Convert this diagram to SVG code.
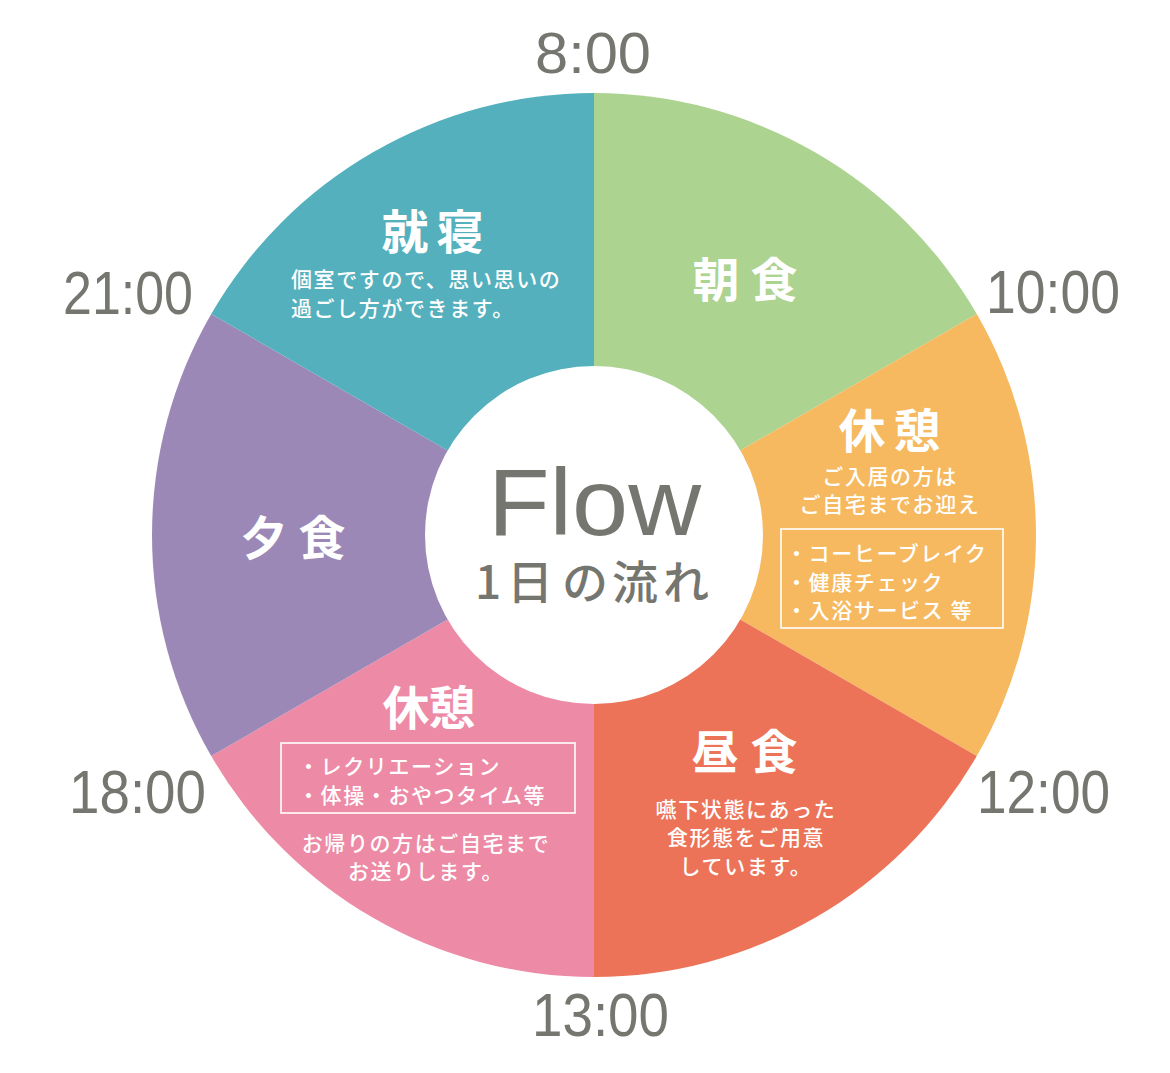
<svg xmlns="http://www.w3.org/2000/svg" width="1170" height="1073" viewBox="0 0 1170 1073">
<style>
.time{font-family:"Liberation Sans",Arial,sans-serif;font-size:62px;fill:#767670;}
.hd{font-family:"Noto Sans CJK JP",sans-serif;font-weight:700;font-size:47px;fill:#fff;text-anchor:middle;}
.bd{font-family:"Noto Sans CJK JP",sans-serif;font-weight:500;font-size:21px;fill:#fff;letter-spacing:1.6px;}
.mid{text-anchor:middle;}
.box{fill:none;stroke:#fff;stroke-width:1.6;}
</style>
<rect width="1170" height="1073" fill="#fff"/>
<g id="seg-breakfast">
<path d="M594,535 L594,93 A442,442 0 0 1 976.78,314 Z" fill="#acd38f"/>
</g>
<g id="seg-rest-am">
<path d="M594,535 L976.78,314 A442,442 0 0 1 976.78,756 Z" fill="#f6b960"/>
</g>
<g id="seg-lunch">
<path d="M594,535 L976.78,756 A442,442 0 0 1 594,977 Z" fill="#ec7358"/>
</g>
<g id="seg-rest-pm">
<path d="M594,535 L594,977 A442,442 0 0 1 211.22,756 Z" fill="#ed8aa6"/>
</g>
<g id="seg-dinner">
<path d="M594,535 L211.22,756 A442,442 0 0 1 211.22,314 Z" fill="#9b88b7"/>
</g>
<g id="seg-sleep">
<path d="M594,535 L211.22,314 A442,442 0 0 1 594,93 Z" fill="#54b0bd"/>
</g>
<g id="center">
<circle cx="594" cy="535" r="169" fill="#fff"/>
<text x="488" y="535" textLength="213" lengthAdjust="spacingAndGlyphs" style="font-family:'Liberation Sans',Arial,sans-serif;font-size:94px;fill:#767670;">Flow</text>
<text x="488 530 585 635 686" y="599" style="font-family:'Noto Sans CJK JP',sans-serif;font-weight:500;font-size:46px;fill:#767670;text-anchor:middle;">1日の流れ</text>
</g>
<g id="labels-breakfast">
<text class="hd" x="716 774" y="297">朝食</text>
</g>
<g id="labels-rest-am">
<text class="hd" x="862 917" y="448">休憩</text>
<text class="bd mid" x="890" y="484">ご入居の方は</text>
<text class="bd mid" x="890" y="512">ご自宅までお迎え</text>
<rect class="box" x="781" y="529" width="222" height="99"/>
<text class="bd" x="786" y="561">・コーヒーブレイク</text>
<text class="bd" x="786" y="590">・健康チェック</text>
<text class="bd" x="786" y="618">・入浴サービス 等</text>
</g>
<g id="labels-lunch">
<text class="hd" x="715 774" y="769">昼食</text>
<text class="bd mid" x="746" y="817">嚥下状態にあった</text>
<text class="bd mid" x="746" y="845">食形態をご用意</text>
<text class="bd mid" x="746" y="874">しています。</text>
</g>
<g id="labels-rest-pm">
<text class="hd" x="406 452" y="725">休憩</text>
<rect class="box" x="281" y="743" width="294" height="70"/>
<text class="bd" x="298" y="774">・レクリエーション</text>
<text class="bd" x="298" y="803">・体操・おやつタイム等</text>
<text class="bd mid" x="426" y="851">お帰りの方はご自宅まで</text>
<text class="bd mid" x="426" y="879">お送りします。</text>
</g>
<g id="labels-dinner">
<text class="hd" x="264 322" y="555">夕食</text>
</g>
<g id="labels-sleep">
<text class="hd" x="405 460" y="249">就寝</text>
<text class="bd" x="291" y="287">個室ですので、思い思いの</text>
<text class="bd" x="291" y="316">過ごし方ができます。</text>
</g>
<g id="times">
<text class="time" x="535" y="73" textLength="116" lengthAdjust="spacingAndGlyphs" style="font-size:57px">8:00</text>
<text class="time" x="986" y="313" textLength="134" lengthAdjust="spacingAndGlyphs">10:00</text>
<text class="time" x="63" y="314" textLength="130" lengthAdjust="spacingAndGlyphs">21:00</text>
<text class="time" x="977" y="813" textLength="133" lengthAdjust="spacingAndGlyphs">12:00</text>
<text class="time" x="69" y="813" textLength="137" lengthAdjust="spacingAndGlyphs">18:00</text>
<text class="time" x="532" y="1036" textLength="137" lengthAdjust="spacingAndGlyphs">13:00</text>
</g>
</svg>
